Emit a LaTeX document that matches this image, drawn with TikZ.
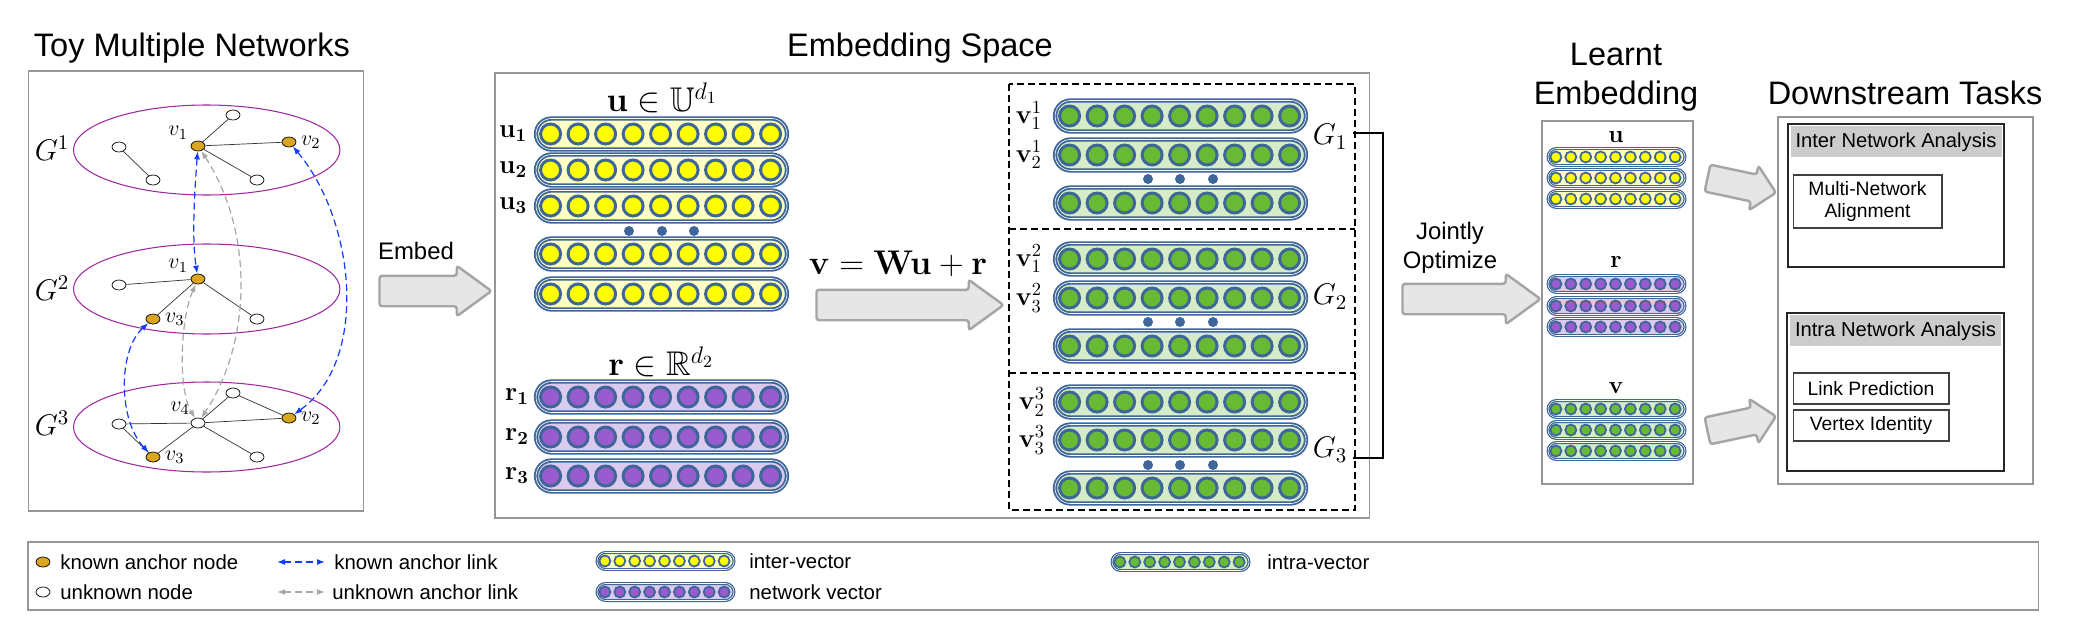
\RequirePackage{fix-cm}
\documentclass[tikz,border=0pt]{standalone}
\usepackage{amsmath,amssymb}
\usepackage[no-math]{fontspec}
\setsansfont{Liberation Sans}
\usepackage{tikz}
\usetikzlibrary{shapes.geometric, shapes.misc, shapes.arrows, arrows.meta,
                positioning, calc, shadows}

\definecolor{ringblue}{RGB}{62,102,152}
\definecolor{uyel}{RGB}{255,255,0}
\definecolor{uyelbg}{RGB}{255,255,196}
\definecolor{rpur}{RGB}{152,92,206}
\definecolor{rpurbg}{RGB}{218,202,238}
\definecolor{vgrn}{RGB}{104,186,52}
\definecolor{vgrnbg}{RGB}{214,236,200}
\definecolor{anchorgold}{RGB}{218,165,32}
\definecolor{ellpur}{RGB}{160,40,160}
\definecolor{linkblue}{RGB}{20,60,255}
\definecolor{linkgray}{RGB}{168,168,168}
\definecolor{arrfill}{RGB}{230,230,230}
\definecolor{arrdraw}{RGB}{165,165,165}
\definecolor{panelgray}{RGB}{150,150,150}
\definecolor{headgray}{RGB}{204,204,204}

\tikzset{
  panel/.style      = {draw=panelgray, line width=0.9pt, inner sep=0pt},
  ptitle/.style     = {font=\sffamily\fontsize{18.5}{22}\selectfont, align=center},
  arrlab/.style     = {font=\sffamily\fontsize{13.6}{16.5}\selectfont, align=center},
  legtext/.style    = {font=\sffamily\fontsize{11.6}{13}\selectfont, inner sep=0pt},
  blockarr/.style   = {single arrow, draw=arrdraw, fill=arrfill, line width=1.4pt,
                       rounded corners=1.5pt, inner xsep=0pt, inner ysep=0.28cm,
                       minimum width=0.96cm, single arrow head extend=0.2cm,
                       single arrow tip angle=72},
  netell/.style     = {ellipse, draw=ellpur, line width=0.6pt,
                       minimum width=5.33cm, minimum height=1.8cm},
  gnode/.style      = {ellipse, draw=black, line width=0.4pt, inner sep=0pt,
                       minimum width=0.28cm, minimum height=0.2cm},
  anchornode/.style = {gnode, fill=anchorgold},
  plainnode/.style  = {gnode, fill=white},
  nedge/.style      = {draw=black!80, line width=0.4pt},
  vlab/.style       = {font=\fontsize{12.5}{14}\selectfont, inner sep=1pt},
  glab/.style       = {font=\fontsize{17}{20}\selectfont, inner sep=0pt},
  veclab/.style     = {font=\fontsize{15}{18}\selectfont, inner sep=0pt},
  biglab/.style     = {font=\fontsize{19.5}{22}\selectfont, inner sep=0pt},
  knownlink/.style  = {{Latex[length=1.6mm,width=1.2mm]}-{Latex[length=1.6mm,width=1.2mm]},
                       draw=linkblue, line width=0.7pt, dash pattern=on 1.4mm off 0.8mm},
  unknownlink/.style= {knownlink, draw=linkgray},
  bigpill/.style    = {rounded rectangle, draw=ringblue, double=white,
                       double distance=0.35pt, line width=1.05pt, inner sep=0pt,
                       minimum width=5.02cm, minimum height=0.62cm},
  bigring/.style    = {draw=ringblue, line width=1.7pt},
  smallpill/.style  = {rounded rectangle, draw=ringblue, double=white,
                       double distance=0.3pt, line width=0.7pt, inner sep=0pt,
                       minimum width=2.74cm, minimum height=0.34cm},
  smallring/.style  = {draw=ringblue, line width=1pt},
  dashbox/.style    = {draw=black, line width=0.6pt, dash pattern=on 1.4mm off 0.8mm},
  bracket/.style    = {draw=black, line width=0.8pt},
  taskbox/.style    = {draw=black!85, line width=1.1pt, fill=white, inner sep=0pt,
                       drop shadow={shadow xshift=0.6pt, shadow yshift=-0.8pt,
                                    opacity=0.45, fill=black}},
  taskhead/.style   = {fill=headgray, inner sep=0pt, minimum width=4.22cm,
                       minimum height=0.62cm, font=\sffamily\fontsize{11.5}{13}\selectfont},
  taskitem/.style   = {draw=black!75, line width=0.6pt, fill=white, inner sep=0pt,
                       align=center, font=\sffamily\fontsize{11}{12.5}\selectfont},
}

\newcommand{\bigvec}[4]{%
  \node[bigpill, fill=#4] (#1) at (#2) {};
  \foreach \k in {0,...,8}
    \draw[bigring, fill=#3] ($(#1.west)+(15.5+27.5*\k,0)$) circle (0.2cm);
}
\newcommand{\smallvec}[4]{%
  \node[smallpill, fill=#4] (#1) at (#2) {};
  \foreach \k in {0,...,8}
    \draw[smallring, fill=#3] ($(#1.west)+(8.5+14.9*\k,0)$) circle (0.11cm);
}

\begin{document}
\begin{tikzpicture}[x=0.02cm, y=-0.02cm, label distance=1.5pt]
  \useasboundingbox (0,0) rectangle (2085,632);

  \node[panel, anchor=north west, minimum width=6.70cm, minimum height=8.80cm] (toypanel) at (27.7,70) {};
  \node[panel, anchor=north west, minimum width=17.50cm, minimum height=8.90cm] (embpanel) at (494,72) {};
  \node[panel, anchor=north west, minimum width=3.02cm, minimum height=7.26cm] (learntpanel) at (1541,120) {};
  \node[panel, anchor=north west, minimum width=5.10cm, minimum height=7.34cm] (taskpanel) at (1777,116) {};
  \node[panel, anchor=north west, minimum width=40.22cm, minimum height=1.36cm] (legendbox) at (27,541) {};

  \node[ptitle] (toytitle) at (192,48) {Toy Multiple Networks};
  \node[ptitle] (embtitle) at (920,48) {Embedding Space};
  \node[ptitle] (learnttitle) at (1616,77.5) {Learnt\\Embedding};
  \node[ptitle] (tasktitle) at (1905,93) {Downstream Tasks};

  % toy networks
  \node[netell] (net1) at (206.7,150) {};
  \node[netell] (net2) at (206.7,289) {};
  \node[netell] (net3) at (206.7,427) {};
  \node[glab] (g1lab) at (52,148) {$G^1$};
  \node[glab] (g2lab) at (52,288) {$G^2$};
  \node[glab] (g3lab) at (52,423) {$G^3$};

  \node[anchornode, label={[vlab]150:$v_1$}] (g1v1) at (198,146) {};
  \node[anchornode, label={[vlab]0:$v_2$}] (g1v2) at (289,142) {};
  \node[plainnode] (g1w1) at (233,115) {};
  \node[plainnode] (g1w2) at (119,147) {};
  \node[plainnode] (g1w3) at (153,180) {};
  \node[plainnode] (g1w4) at (257,180) {};

  \node[anchornode, label={[vlab]150:$v_1$}] (g2v1) at (198,279) {};
  \node[anchornode, label={[vlab]0:$v_3$}] (g2v3) at (153,319) {};
  \node[plainnode] (g2w1) at (119,285) {};
  \node[plainnode] (g2w2) at (257,319) {};

  \node[plainnode, label={[vlab]135:$v_4$}] (g3v4) at (198,423) {};
  \node[anchornode, label={[vlab]0:$v_2$}] (g3v2) at (289,418) {};
  \node[anchornode, label={[vlab]0:$v_3$}] (g3v3) at (153,457) {};
  \node[plainnode] (g3w1) at (119,424) {};
  \node[plainnode] (g3w2) at (233,393) {};
  \node[plainnode] (g3w3) at (257,457) {};

  \draw[nedge] (g1v1) -- (g1w1);
  \draw[nedge] (g1v1) -- (g1v2);
  \draw[nedge] (g1v1) -- (g1w4);
  \draw[nedge] (g1w2) -- (g1w3);
  \draw[nedge] (g2v1) -- (g2w1);
  \draw[nedge] (g2v1) -- (g2v3);
  \draw[nedge] (g2v1) -- (g2w2);
  \draw[nedge] (g3v4) -- (g3w1);
  \draw[nedge] (g3v4) -- (g3v2);
  \draw[nedge] (g3v4) -- (g3v3);
  \draw[nedge] (g3v4) -- (g3w2);
  \draw[nedge] (g3v4) -- (g3w3);
  \draw[nedge] (g3w2) -- (g3v2);
  \draw[nedge] (g3w1) -- (g3v3);

  \draw[unknownlink] (g1v1) .. controls (253,230) and (253,340) .. (g3v4);
  \draw[unknownlink] (g2v1) .. controls (180,320) and (178,390) .. (g3v4);
  \draw[knownlink] (g1v1) .. controls (194,200) and (192,240) .. (g2v1);
  \draw[knownlink] (g1v2) .. controls (355,220) and (370,360) .. (g3v2);
  \draw[knownlink] (g2v3) .. controls (118,350) and (118,420) .. (g3v3);

  \node[blockarr, minimum height=2.24cm] (embedarr) at (425,291) {};
  \node[arrlab] (embedlab) at (416,251) {Embed};

  % embedding space
  \node[biglab] (ulab) at (662,98) {$\mathbf{u}\in\mathbb{U}^{d_1}$};
  \bigvec{urow1}{661.5,134}{uyel}{uyelbg}
  \bigvec{urow2}{661.5,170}{uyel}{uyelbg}
  \bigvec{urow3}{661.5,206}{uyel}{uyelbg}
  \bigvec{urow4}{661.5,254}{uyel}{uyelbg}
  \bigvec{urow5}{661.5,294}{uyel}{uyelbg}
  \foreach \x in {629,662,694} \fill[ringblue] (\x,231) circle (0.1cm);
  \node[veclab] (u1lab) at (513,134) {$\mathbf{u_1}$};
  \node[veclab] (u2lab) at (513,170) {$\mathbf{u_2}$};
  \node[veclab] (u3lab) at (513,206) {$\mathbf{u_3}$};

  \node[biglab] (rlab) at (661,362) {$\mathbf{r}\in\mathbb{R}^{d_2}$};
  \bigvec{rrow1}{661.5,397}{rpur}{rpurbg}
  \bigvec{rrow2}{661.5,437}{rpur}{rpurbg}
  \bigvec{rrow3}{661.5,476}{rpur}{rpurbg}
  \node[veclab] (r1lab) at (517,397) {$\mathbf{r_1}$};
  \node[veclab] (r2lab) at (517,437) {$\mathbf{r_2}$};
  \node[veclab] (r3lab) at (517,476) {$\mathbf{r_3}$};

  \node[biglab] (maplab) at (898,264) {$\mathbf{v}=\mathbf{Wu}+\mathbf{r}$};
  \node[blockarr, minimum height=3.74cm] (maparr) at (899.5,305) {};

  \draw[dashbox] (1009,84) rectangle (1355,510);
  \draw[dashbox] (1009,229) -- (1355,229);
  \draw[dashbox] (1009,373) -- (1355,373);

  \bigvec{v1row1}{1180.5,116}{vgrn}{vgrnbg}
  \bigvec{v1row2}{1180.5,155}{vgrn}{vgrnbg}
  \bigvec{v1row3}{1180.5,203}{vgrn}{vgrnbg}
  \bigvec{v2row1}{1180.5,259}{vgrn}{vgrnbg}
  \bigvec{v2row2}{1180.5,298}{vgrn}{vgrnbg}
  \bigvec{v2row3}{1180.5,346}{vgrn}{vgrnbg}
  \bigvec{v3row1}{1180.5,402}{vgrn}{vgrnbg}
  \bigvec{v3row2}{1180.5,440}{vgrn}{vgrnbg}
  \bigvec{v3row3}{1180.5,488}{vgrn}{vgrnbg}
  \foreach \y in {179,322,465}
    \foreach \x in {1148,1180,1213} \fill[ringblue] (\x,\y) circle (0.1cm);

  \node[veclab] (v11lab) at (1029,116) {$\mathbf{v}^1_1$};
  \node[veclab] (v12lab) at (1029,155) {$\mathbf{v}^1_2$};
  \node[veclab] (v21lab) at (1029,259) {$\mathbf{v}^2_1$};
  \node[veclab] (v23lab) at (1029,298) {$\mathbf{v}^2_3$};
  \node[veclab] (v32lab) at (1032,402) {$\mathbf{v}^3_2$};
  \node[veclab] (v33lab) at (1032,440) {$\mathbf{v}^3_3$};

  \node[glab] (gsub1) at (1330,137) {$G_1$};
  \node[glab] (gsub2) at (1330,297) {$G_2$};
  \node[glab] (gsub3) at (1330,450) {$G_3$};
  \coordinate (brtop) at (1353,133);
  \coordinate (brbot) at (1353,458);
  \draw[bracket] (brtop) -- ++(30,0) |- (brbot);

  \node[blockarr, minimum height=2.76cm] (jointarr) at (1461,299) {};
  \node[arrlab] (jointlab) at (1450,247.5) {Jointly\\Optimize};

  % learnt embedding
  \node[veclab, font=\fontsize{14}{16}\selectfont] (lulab) at (1616,137) {$\mathbf{u}$};
  \smallvec{lu1}{1616.5,157}{uyel}{uyelbg}
  \smallvec{lu2}{1616.5,178}{uyel}{uyelbg}
  \smallvec{lu3}{1616.5,199}{uyel}{uyelbg}
  \node[veclab, font=\fontsize{14}{16}\selectfont] (lrlab) at (1616,262) {$\mathbf{r}$};
  \smallvec{lr1}{1616.5,284}{rpur}{rpurbg}
  \smallvec{lr2}{1616.5,306}{rpur}{rpurbg}
  \smallvec{lr3}{1616.5,327}{rpur}{rpurbg}
  \node[veclab, font=\fontsize{14}{16}\selectfont] (lvlab) at (1616,388) {$\mathbf{v}$};
  \smallvec{lv1}{1616.5,409}{vgrn}{vgrnbg}
  \smallvec{lv2}{1616.5,430}{vgrn}{vgrnbg}
  \smallvec{lv3}{1616.5,451}{vgrn}{vgrnbg}

  \node[blockarr, minimum height=1.40cm, minimum width=0.86cm, inner ysep=0.25cm,
        single arrow head extend=0.18cm, single arrow tip angle=90, rotate=-12] (interarr) at (1735,184) {};
  \node[blockarr, minimum height=1.40cm, minimum width=0.86cm, inner ysep=0.25cm,
        single arrow head extend=0.18cm, single arrow tip angle=90, rotate=12] (intraarr) at (1735,425) {};

  % downstream tasks
  \node[taskbox, minimum width=4.32cm, minimum height=2.86cm] (interbox) at (1896,195.5) {};
  \node[taskhead, anchor=north] (interhead) at ([yshift=-0.06cm]interbox.north) {Inter Network Analysis};
  \node[taskitem, minimum width=2.98cm, minimum height=1.06cm] (mna) at (1867.5,201.5) {Multi-Network\\Alignment};
  \node[taskbox, minimum width=4.34cm, minimum height=3.16cm] (intrabox) at (1895.5,392) {};
  \node[taskhead, anchor=north] (intrahead) at ([yshift=-0.06cm]intrabox.north) {Intra Network Analysis};
  \node[taskitem, minimum width=3.12cm, minimum height=0.62cm] (linkpred) at (1871,388.5) {Link Prediction};
  \node[taskitem, minimum width=3.12cm, minimum height=0.62cm] (vertid) at (1871,425.5) {Vertex Identity};

  % legend
  \node[anchornode] (lgknown) at (43,562) {};
  \node[legtext, anchor=west] (lgknowntxt) at (60,562) {known anchor node};
  \node[plainnode] (lgunknown) at (43,592) {};
  \node[legtext, anchor=west] (lgunknowntxt) at (60,592) {unknown node};
  \coordinate (lka) at (277,562);
  \coordinate (lkb) at (325,562);
  \draw[knownlink] (lka) -- (lkb);
  \node[legtext, anchor=west] (lklinktxt) at (334,562) {known anchor link};
  \coordinate (lua) at (277,592);
  \coordinate (lub) at (325,592);
  \draw[unknownlink] (lua) -- (lub);
  \node[legtext, anchor=west] (lulinktxt) at (332,592) {unknown anchor link};
  \smallvec{lginter}{665.5,561}{uyel}{uyelbg}
  \node[legtext, anchor=west] (lgintertxt) at (749,561) {inter-vector};
  \smallvec{lgnet}{665.5,592}{rpur}{rpurbg}
  \node[legtext, anchor=west] (lgnettxt) at (749,592) {network vector};
  \smallvec{lgintra}{1180.5,562}{vgrn}{vgrnbg}
  \node[legtext, anchor=west] (lgintratxt) at (1267,562) {intra-vector};
\end{tikzpicture}
\end{document}
